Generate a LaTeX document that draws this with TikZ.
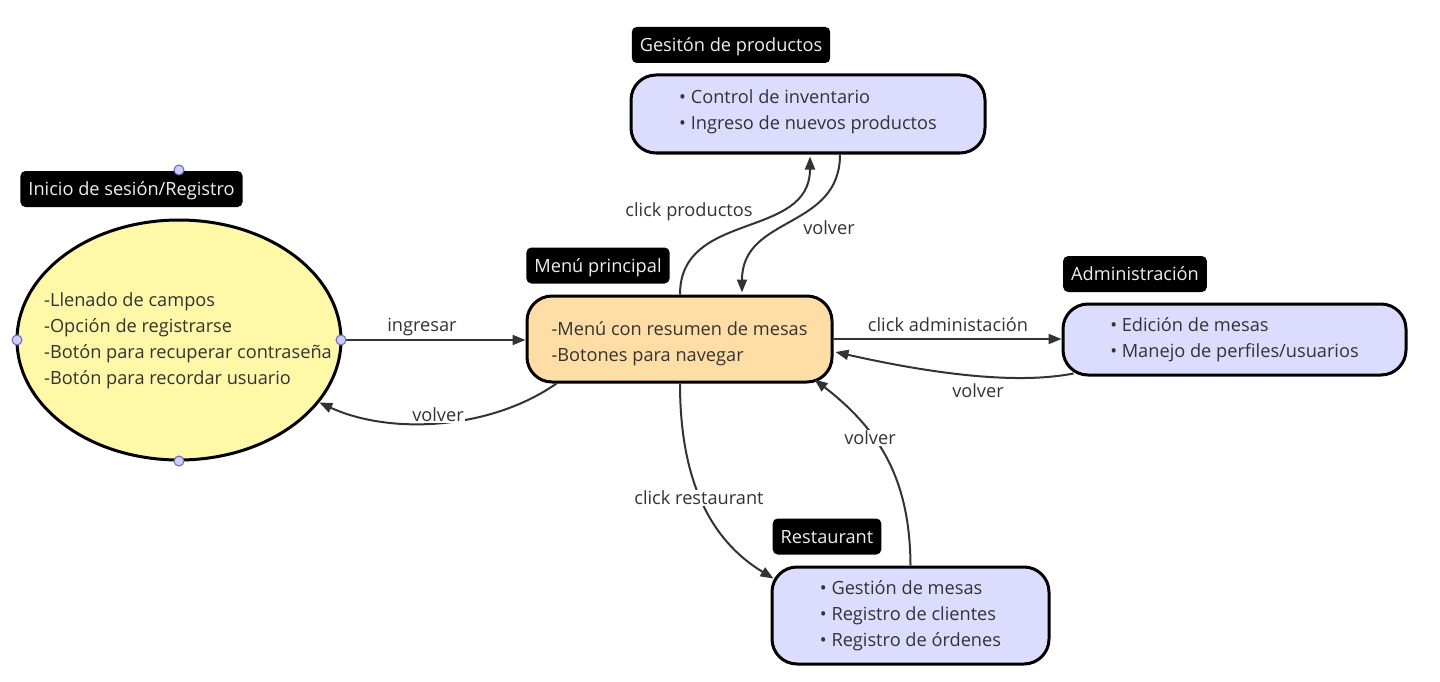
\documentclass[tikz,border=0pt]{standalone}
\usepackage{fontspec}
\setmainfont{Open Sans}
\usetikzlibrary{shapes.geometric,arrows.meta}
\definecolor{txt}{HTML}{333333}
\definecolor{yel}{HTML}{FFF8A6}
\definecolor{ora}{HTML}{FFDEA6}
\definecolor{lav}{HTML}{DCDCFF}
\definecolor{tagtxt}{HTML}{EEEEEE}
\definecolor{hfill}{HTML}{CCCCFF}
\definecolor{hdraw}{HTML}{6666CC}
\begin{document}
\begin{tikzpicture}[x=1pt,y=-1pt,
  box/.style={draw=black, line width=3pt, rounded corners=25pt, inner sep=0pt,
    font=\fontsize{18.2}{26}\selectfont, text=txt, align=left},
  tag/.style={fill=black, rounded corners=5pt, text=tagtxt,
    font=\fontsize{18.2}{21}\selectfont, minimum height=36pt, inner xsep=8pt,
    text height=13pt, text depth=0pt},
  conn/.style={draw=txt, line width=2pt, -{Triangle[length=13pt,width=10pt]}},
  lbl/.style={fill=white, text=txt, font=\fontsize{18.2}{21}\selectfont, inner sep=1pt,
    text height=13pt, text depth=1pt},
  handle/.style={circle, minimum size=10pt, inner sep=0pt, fill=hfill, draw=hdraw, line width=1pt}]
\useasboundingbox (0,0) rectangle (1440,682);
\fill[white] (0,0) rectangle (1440,682);

% main shapes
\node[ellipse, draw=black, line width=3pt, fill=yel, minimum width=324pt, minimum height=240pt, inner sep=0pt] (e) at (179,340) {};
\node[font=\fontsize{18.2}{26}\selectfont, text=txt, align=left] (et) at (188,341)
  {-Llenado de campos\\-Opción de registrarse\\-Botón para recuperar contraseña\\-Botón para recordar usuario};

\node[box, fill=ora, minimum width=305pt, minimum height=86pt] (m) at (679.5,339)
  {\rule{0pt}{23pt}-Menú con resumen de mesas\\-Botones para navegar};
\node[box, fill=lav, minimum width=354pt, minimum height=78pt] (g) at (808,114)
  {• Control de inventario\\• Ingreso de nuevos productos\rule[-9pt]{0pt}{0pt}};
\node[box, fill=lav, minimum width=343pt, minimum height=71pt] (a) at (1234.5,339.5)
  {• Edición de mesas\\• Manejo de perfiles/usuarios};
\node[box, fill=lav, minimum width=277pt, minimum height=97pt] (r) at (910.5,615.5)
  {• Gestión de mesas\\• Registro de clientes\\• Registro de órdenes};

% tags
\node[tag] (te) at (131.5,189) {Inicio de sesión/Registro};
\node[tag] (tm) at (598,265.5) {Menú principal};
\node[tag] (tg) at (731,45) {Gesitón de productos};
\node[tag] (ta) at (1135,274) {Administración};
\node[tag] (tr) at (827,536.5) {Restaurant};

% connectors
\draw[conn] (e.east) -- (m.west |- e.east);
\draw[conn] ([xshift=31pt]m.south west) .. controls (490,430) and (390,435) .. (e.-24);
\draw[conn] ([xshift=0.5pt]m.north) .. controls (680,210) and (810,240) .. ([xshift=2pt,yshift=-2pt]g.south);
\draw[conn] ([xshift=32pt]g.south) .. controls (840,230) and (742,215) .. ([xshift=62.5pt,yshift=2pt]m.north);
\draw[conn] (m.east) -- (a.west |- m.east);
\draw[conn] ([xshift=12pt,yshift=3pt]a.south west) .. controls (1030,382) and (960,380) .. ([xshift=2pt,yshift=-13pt]m.east);
\draw[conn] ([xshift=0.5pt]m.south) .. controls (680,480) and (710,540) .. ([xshift=3pt,yshift=-13pt]r.north west);
\draw[conn] (r.north) .. controls (910,480) and (880,430) .. ([xshift=-19pt,yshift=4pt]m.south east);

% connector labels
\node[lbl] (l1) at (422,325) {ingresar};
\node[lbl] (l2) at (438,415) {volver};
\node[lbl] (l3) at (689,210) {click productos};
\node[lbl] (l4) at (829,228) {volver};
\node[lbl] (l5) at (948,325) {click administación};
\node[lbl] (l6) at (978,391) {volver};
\node[lbl] (l7) at (699,498) {click restaurant};
\node[lbl] (l8) at (870,438) {volver};

% handles
\node[handle] (h1) at (179,170) {};
\node[handle] (h2) at (17,340) {};
\node[handle] (h3) at (341,340) {};
\node[handle] (h4) at (179,461) {};
\end{tikzpicture}
\end{document}
